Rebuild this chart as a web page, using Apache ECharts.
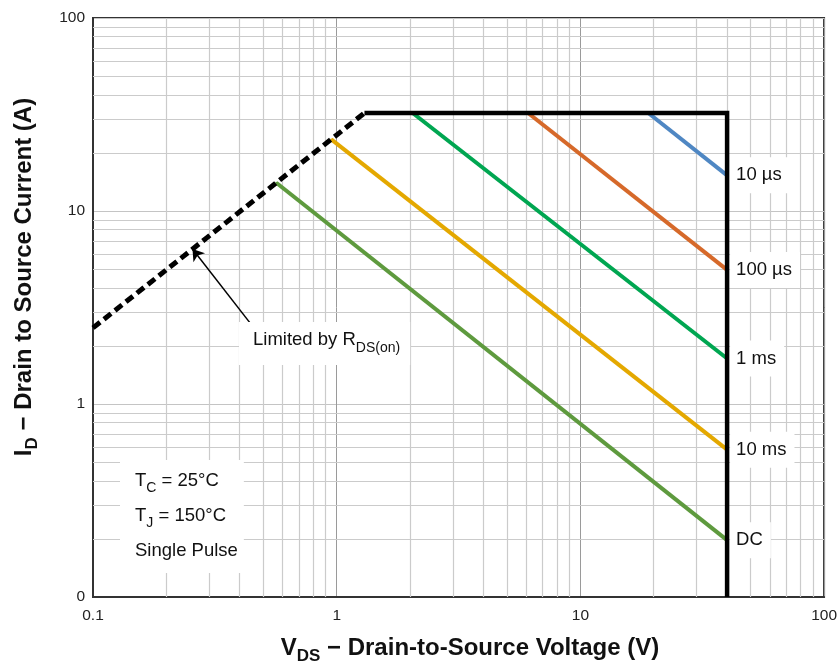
<!DOCTYPE html>
<html>
<head>
<meta charset="utf-8">
<script src="https://cdn.jsdelivr.net/npm/echarts@6/dist/echarts.min.js"></script>
<style>
  html, body { margin: 0; padding: 0; background: #fff; }
  #chart { width: 840px; height: 664px; }
</style>
</head>
<body>
<div id="chart"></div>
<script>
// Safe operating area, points are [V_DS (V), I_D (A)]
const rdsOnLimit   = [[0.1, 2.48], [1.3, 32.2]];
const currentLimit = [[1.3, 32.2], [40, 32.2], [40, 0.1]];
const pulse10us    = [[19, 32.2], [40, 15.3]];
const pulse100us   = [[6.1, 32.2], [40, 4.95]];
const pulse1ms     = [[2.05, 32.2], [40, 1.72]];
const pulse10ms    = [[0.95, 23.5], [40, 0.58]];
const pulseDC      = [[0.565, 14.0], [40, 0.197]];

const curveNames  = ['10 µs', '100 µs', '1 ms', '10 ms', 'DC'];
const curveData   = [pulse10us, pulse100us, pulse1ms, pulse10ms, pulseDC];
const curveColors = ['#4f87c3', '#d6692a', '#00a651', '#e4a800', '#5e9a3e'];

// Axis tick labels (log decades)
const xTickLabels = { '0.1': '0.1', '1': '1', '10': '10', '100': '100' };
const yTickLabels = { '0.1': '0', '1': '1', '10': '10', '100': '100' };

// Minor grid: 2..9 within each decade
const minorSteps = [2, 3, 4, 5, 6, 7, 8, 9];
const decades = [0.1, 1, 10];

// Arrow of the R_DS(on) note, in data coordinates [tail, tip]
const noteArrow = [[0.44, 2.64], [0.256, 6.35]];

const FONT = '"Liberation Sans", Arial, Helvetica, sans-serif';

const vMinor = decades.flatMap(d => minorSteps.map(s => ({ xAxis: +(s * d).toPrecision(3) })));
const hMinor = decades.flatMap(d => minorSteps.map(s => ({ yAxis: +(s * d).toPrecision(3) })));

const tickKey = v => String(+(+v).toPrecision(3));

const chart = echarts.init(document.getElementById('chart'), null, { renderer: 'canvas' });

// each pulse curve carries its name as a boxed label at its last point
const curveSeries = curveNames.map((name, i) => {
  const pts = curveData[i];
  return {
    name,
    type: 'line',
    data: pts.map((p, j) => j === pts.length - 1
      ? { value: p, label: { show: true } }
      : { value: p }),
    symbol: 'circle',
    symbolSize: 2,
    showSymbol: true,
    showAllSymbol: true,
    z: 4,
    lineStyle: { color: curveColors[i], width: 4, cap: 'butt' },
    itemStyle: { color: curveColors[i] },
    label: {
      show: false,
      position: 'right',
      formatter: () => name,
      color: '#111',
      fontFamily: FONT,
      fontSize: 18.5,
      lineHeight: 18,
      backgroundColor: '#fff',
      padding: [9, 8, 9, 6],
      distance: 2
    },
    emphasis: { disabled: true }
  };
});

const subStyle = { fontFamily: FONT, fontSize: 14, lineHeight: 14, padding: [16, 0, 0, 0], fill: '#111' };
const titleSub = { fontFamily: FONT, fontSize: 17, fontWeight: 'bold', lineHeight: 17, padding: [17, 0, 0, 0], fill: '#111' };

chart.setOption({
  animation: false,
  backgroundColor: '#fff',
  grid: {
    left: 93, right: 13, top: 18, bottom: 67,
    show: true, borderColor: '#333', borderWidth: 2, backgroundColor: 'transparent'
  },
  xAxis: {
    type: 'log', logBase: 10, min: 0.1, max: 100,
    axisLine: { show: true, lineStyle: { color: '#333', width: 2 } },
    axisTick: { show: false },
    splitLine: { show: true, lineStyle: { color: '#9a9a9a', width: 1 } },
    axisLabel: {
      color: '#222', fontFamily: FONT, fontSize: 15.5, margin: 11,
      showMinLabel: true, showMaxLabel: true,
      formatter: v => xTickLabels[tickKey(v)] ?? ''
    }
  },
  yAxis: {
    type: 'log', logBase: 10, min: 0.1, max: 100,
    axisLine: { show: true, lineStyle: { color: '#333', width: 2 } },
    axisTick: { show: false },
    splitLine: { show: true, lineStyle: { color: '#c4c4c4', width: 1.2 } },
    axisLabel: {
      color: '#222', fontFamily: FONT, fontSize: 15.5, margin: 8,
      showMinLabel: true, showMaxLabel: true,
      formatter: v => yTickLabels[tickKey(v)] ?? ''
    }
  },
  series: [
    {
      // minor log grid, kept beneath the curves and their labels
      type: 'line', data: [], silent: true, z: 1,
      markLine: {
        z: 1,
        silent: true, symbol: 'none', animation: false,
        label: { show: false },
        lineStyle: { color: '#cbcbcb', width: 1.2, type: 'solid' },
        emphasis: { disabled: true },
        data: [...vMinor, ...hMinor]
      }
    },
    {
      name: 'R_DS(on) limit', type: 'line', data: rdsOnLimit, symbol: 'none', z: 5,
      lineStyle: { color: '#000', width: 5, type: [9, 5], cap: 'butt' },
      markLine: {
        z: 5,
        silent: true, symbol: ['none', 'arrow'], symbolSize: 11, animation: false,
        label: { show: false },
        lineStyle: { color: '#000', width: 1.5, type: 'solid' },
        data: [[{ coord: noteArrow[0] }, { coord: noteArrow[1] }]]
      }
    },
    {
      name: 'Current limit', type: 'line', data: currentLimit, symbol: 'none', z: 5,
      lineStyle: { color: '#000', width: 4.5, cap: 'butt', join: 'miter' }
    },
    ...curveSeries
  ],
  graphic: [
    {
      type: 'text', z: 100, x: 239, y: 322,
      style: {
        text: 'Limited by R{sub|DS(on)}',
        fontFamily: FONT, fontSize: 18.5, fill: '#111',
        backgroundColor: '#fff', padding: [3, 10, 10, 14], lineHeight: 30,
        rich: { sub: subStyle }
      }
    },
    {
      type: 'text', z: 100, x: 120, y: 460,
      style: {
        text: 'T{sub|C} = 25°C\nT{sub|J} = 150°C\nSingle Pulse',
        fontFamily: FONT, fontSize: 18.5, fill: '#111', lineHeight: 35,
        backgroundColor: '#fff', padding: [3, 6, 5, 15],
        rich: { sub: subStyle }
      }
    },
    {
      type: 'text', z: 100, x: 470, y: 648,
      style: {
        text: 'V{sub|DS} − Drain-to-Source Voltage (V)',
        fontFamily: FONT, fontSize: 24, fontWeight: 'bold', fill: '#111',
        align: 'center', verticalAlign: 'middle', lineHeight: 32,
        rich: { sub: titleSub }
      }
    },
    {
      type: 'text', z: 100, x: 24, y: 277, rotation: Math.PI / 2,
      style: {
        text: 'I{sub|D} − Drain to Source Current (A)',
        fontFamily: FONT, fontSize: 24, fontWeight: 'bold', fill: '#111',
        align: 'center', verticalAlign: 'middle', lineHeight: 32,
        rich: { sub: titleSub }
      }
    }
  ]
});
</script>
</body>
</html>
